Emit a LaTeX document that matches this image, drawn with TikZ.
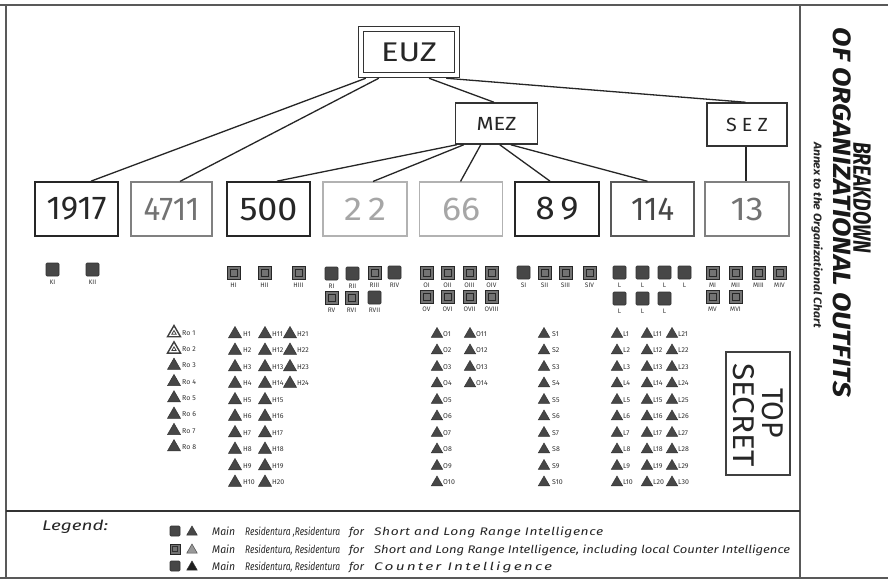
\documentclass[tikz,border=0pt]{standalone}
\usepackage{fontspec}
\setmainfont{Fira Sans}
\usetikzlibrary{shapes.geometric,calc}
\newcommand{\fitw}[2]{\resizebox{#1}{\height}{#2}}
\newcommand{\sqr}[5]{%
  \node[#4] (#1) at ({#2+6.5},{#3+6.5}) {};
  \node[sqlab] (#1-l) at ({#2+6.5},{#3+19.5}) {#5};
}
\tikzset{
  frameline/.style={draw=black!65,line width=1.6pt},
  conn/.style={draw=black!85,line width=1.3pt},
  numbox/.style={rectangle,inner sep=0pt,minimum width=83pt,minimum height=54pt,fill=white,font=\fontsize{33}{33}\selectfont},
  bxdark/.style={draw=black!85,line width=1.7pt,text=black!85},
  bxmid/.style={draw=black!65,line width=1.4pt,text=black!72},
  bxgray/.style={draw=black!50,line width=1.2pt,text=black!55},
  bxlight/.style={draw=black!30,line width=1.1pt,text=black!35},
  topbox/.style={rectangle,inner sep=0pt,draw=black!80,line width=1.5pt,fill=white,text=black!85},
  sqa/.style={rectangle,inner sep=0pt,minimum size=13pt,fill=black!72,draw=black!80,line width=0.6pt,rounded corners=1pt},
  sqb/.style={rectangle,inner sep=0pt,minimum size=13pt,fill=black!55,draw=black!85,line width=1pt,
     path picture={\draw[black!85,line width=0.7pt] ([shift={(3pt,3pt)}]path picture bounding box.south west) rectangle ([shift={(-3pt,-3pt)}]path picture bounding box.north east);}},
  sqlab/.style={inner sep=0pt,font=\fontsize{6.5}{6.5}\selectfont,text=black!80},
  tri/.style={regular polygon,regular polygon sides=3,minimum size=15pt,inner sep=0pt,fill=black!72,draw=black!80,line width=0.5pt},
  trism/.style={tri,minimum size=13pt},
  trihollow/.style={tri,fill=white,draw=black!75,line width=1.4pt},
  trilab/.style={anchor=west,inner sep=0pt,font=\fontsize{7}{7}\selectfont,text=black!80},
  legtxt/.style={anchor=base west,inner sep=0pt,font=\fontsize{11}{11}\selectfont\itshape,text=black!85},
  rottxt/.style={rotate=-90,inner sep=0pt},
}
\begin{document}
\begin{tikzpicture}[x=1pt,y=-1pt]
\useasboundingbox (0,0) rectangle (888,581);
\fill[white] (0,0) rectangle (888,581);
% frame
\draw[frameline] (0,5) -- (888,5);
\draw[frameline] (0,578) -- (888,578);
\draw[frameline] (6,5) -- (6,578);
\draw[frameline] (800,5) -- (800,578);
\draw[draw=black!80,line width=2pt] (6,511) -- (800,511);

% top level
\node[topbox,minimum width=101pt,minimum height=51pt] (euz) at (409,52) {};
\node[rectangle,draw=black!80,line width=1.5pt,minimum width=91pt,minimum height=41pt,inner sep=0pt,font=\fontsize{27}{27}\selectfont,text=black!85] (euzin) at (euz.center) {\fitw{56pt}{EUZ}};
\node[topbox,minimum width=82pt,minimum height=41pt,font=\fontsize{19}{19}\selectfont] (mez) at (496.5,123.5) {\fitw{40pt}{MEZ}};
\node[topbox,minimum width=80pt,minimum height=43pt,font=\fontsize{19}{19}\selectfont] (sez) at (747,124.5) {\fitw{42pt}{S E Z}};

% second level
\node[numbox,bxdark] (n1917) at (76.5,209) {\fitw{60pt}{1917}};
\node[numbox,bxgray,minimum width=81pt] (n4711) at (171.5,209) {\fitw{56pt}{4711}};
\node[numbox,bxdark] (n500) at (268.5,209) {\fitw{58pt}{500}};
\node[numbox,bxlight,minimum width=84pt] (n22) at (365,209) {\fitw{42pt}{2\,2}};
\node[numbox,bxlight] (n66) at (461,209) {\fitw{38pt}{66}};
\node[numbox,bxdark,minimum width=84pt] (n89) at (557,209) {\fitw{43pt}{8\,9}};
\node[numbox,bxmid] (n114) at (652.5,209) {\fitw{43pt}{114}};
\node[numbox,bxgray,minimum width=84pt] (n13) at (747,209) {\fitw{33pt}{13}};

% connectors
\draw[conn] ($(euz.south west)+(8,0)$) -- ($(n1917.north)+(14.5,0)$);
\draw[conn] ($(euz.south west)+(21,0)$) -- ($(n4711.north)+(8.5,0)$);
\draw[conn] ($(euz.south)+(20,0)$) -- ($(mez.north)+(-2.5,0)$);
\draw[conn] ($(euz.south east)+(-14,0)$) -- ($(sez.north)+(-1.5,0)$);
\draw[conn] ($(mez.south west)+(2,0)$) -- ($(n500.north)+(8.5,0)$);
\draw[conn] ($(mez.south west)+(9,0)$) -- ($(n22.north)+(8,0)$);
\draw[conn] ($(mez.south west)+(26,0)$) -- ($(n66.north)+(-0.5,0)$);
\draw[conn] ($(mez.south west)+(45,0)$) -- ($(n89.north)+(-7,0)$);
\draw[conn] ($(mez.south west)+(56,0)$) -- ($(n114.north)+(-5,0)$);
\draw[conn] ($(sez.south)+(-1,0)$) -- ($(n13.north)+(-1,0)$);

% squares
\sqr{kI}{46}{263}{sqa}{KI}
\sqr{kII}{86}{263}{sqa}{KII}
\sqr{hI}{227}{266}{sqb}{HI}
\sqr{hII}{258}{266}{sqb}{HII}
\sqr{hIII}{292}{266}{sqb}{HIII}
\sqr{rI}{325}{267}{sqa}{RI}
\sqr{rII}{346}{267}{sqa}{RII}
\sqr{rIII}{368}{266}{sqb}{RIII}
\sqr{rIV}{388}{266}{sqa}{RIV}
\sqr{rV}{325}{291}{sqb}{RV}
\sqr{rVI}{345}{291}{sqb}{RVI}
\sqr{rVII}{368}{291}{sqa}{RVII}
\sqr{oI}{420}{266}{sqb}{OI}
\sqr{oII}{441}{266}{sqb}{OII}
\sqr{oIII}{463}{266}{sqb}{OIII}
\sqr{oIV}{485}{266}{sqb}{OIV}
\sqr{oV}{420}{290}{sqb}{OV}
\sqr{oVI}{441}{290}{sqb}{OVI}
\sqr{oVII}{463}{290}{sqb}{OVII}
\sqr{oVIII}{485}{290}{sqb}{OVIII}
\sqr{sI}{517}{266}{sqa}{SI}
\sqr{sII}{538}{266}{sqb}{SII}
\sqr{sIII}{559}{266}{sqb}{SIII}
\sqr{sIV}{583}{266}{sqb}{SIV}
\sqr{lq1}{613}{266}{sqa}{L}
\sqr{lq2}{636}{266}{sqa}{L}
\sqr{lq3}{658}{266}{sqa}{L}
\sqr{lq4}{678}{266}{sqa}{L}
\sqr{lq5}{613}{292}{sqa}{L}
\sqr{lq6}{636}{292}{sqa}{L}
\sqr{lq7}{658}{292}{sqa}{L}
\sqr{mI}{706}{266}{sqb}{MI}
\sqr{mII}{729}{266}{sqb}{MII}
\sqr{mIII}{752}{266}{sqb}{MIII}
\sqr{mIV}{773}{266}{sqb}{MIV}
\sqr{mV}{706}{290}{sqb}{MV}
\sqr{mVI}{729}{290}{sqb}{MVI}

% triangles: Ro
\foreach \i in {1,2}{
  \pgfmathsetmacro{\yy}{333+16.3*(\i-1)}
  \node[trihollow] (ro\i) at (174,\yy) {};
  \node[regular polygon,regular polygon sides=3,minimum size=5pt,inner sep=0pt,draw=black!75,line width=0.8pt] (ro\i-in) at (174,\yy) {};
  \node[trilab] (ro\i-l) at (182,\yy) {Ro \i};
}
\foreach \i in {3,...,8}{
  \pgfmathsetmacro{\yy}{333+16.3*(\i-1)}
  \node[tri] (ro\i) at (174,\yy) {};
  \node[trilab] (ro\i-l) at (182,\yy) {Ro \i};
}
% H
\foreach \i in {1,...,10}{
  \pgfmathsetmacro{\yy}{334+16.5*(\i-1)}
  \node[tri] (th\i) at (235,\yy) {};
  \node[trilab] (th\i-l) at (243,\yy) {H\i};
}
\foreach \i in {11,...,20}{
  \pgfmathsetmacro{\yy}{334+16.5*(\i-11)}
  \node[tri] (th\i) at (265,\yy) {};
  \node[trilab] (th\i-l) at (272,\yy) {H\i};
}
\foreach \i in {21,...,24}{
  \pgfmathsetmacro{\yy}{334+16.5*(\i-21)}
  \node[tri] (th\i) at (290,\yy) {};
  \node[trilab] (th\i-l) at (297,\yy) {H\i};
}
% O
\foreach \i in {1,...,10}{
  \pgfmathsetmacro{\yy}{334+16.5*(\i-1)}
  \node[trism] (to\i) at (437,\yy) {};
  \node[trilab] (to\i-l) at (443,\yy) {O\i};
}
\foreach \i in {11,...,14}{
  \pgfmathsetmacro{\yy}{334+16.5*(\i-11)}
  \node[trism] (to\i) at (470,\yy) {};
  \node[trilab] (to\i-l) at (476,\yy) {O\i};
}
% S
\foreach \i in {1,...,10}{
  \pgfmathsetmacro{\yy}{334+16.5*(\i-1)}
  \node[trism] (ts\i) at (544,\yy) {};
  \node[trilab] (ts\i-l) at (552,\yy) {S\i};
}
% L
\foreach \i in {1,...,10}{
  \pgfmathsetmacro{\yy}{334+16.5*(\i-1)}
  \node[trism] (tl\i) at (617,\yy) {};
  \node[trilab] (tl\i-l) at (623,\yy) {L\i};
}
\foreach \i in {11,...,20}{
  \pgfmathsetmacro{\yy}{334+16.5*(\i-11)}
  \node[trism] (tl\i) at (647,\yy) {};
  \node[trilab] (tl\i-l) at (653,\yy) {L\i};
}
\foreach \i in {21,...,30}{
  \pgfmathsetmacro{\yy}{334+16.5*(\i-21)}
  \node[trism] (tl\i) at (672,\yy) {};
  \node[trilab] (tl\i-l) at (678,\yy) {L\i};
}

% TOP SECRET
\node[rectangle,draw=black!75,line width=1.5pt,minimum width=64pt,minimum height=123pt,inner sep=0pt] (tsbox) at (758,413.5) {};
\node[rottxt,font=\fontsize{30}{30}\selectfont,text=black!85] (top) at (772.5,413) {\fitw{50pt}{TOP}};
\node[rottxt,font=\fontsize{30}{30}\selectfont,text=black!85] (secret) at (744,415) {\fitw{104pt}{SECRET}};

% title
\node[rottxt,font=\fontsize{25}{25}\selectfont\bfseries\itshape,text=black!90] (brk) at (862,197.5) {\fitw{111pt}{BREAKDOWN}};
\node[rottxt,font=\fontsize{25}{25}\selectfont\bfseries\itshape,text=black!90] (oforg) at (842,212.5) {\fitw{369pt}{OF ORGANIZATIONAL OUTFITS}};
\node[rottxt,font=\fontsize{11}{11}\selectfont\bfseries\itshape,text=black!85] (annex) at (817,235) {\fitw{186pt}{Annex to the Organizational Chart}};

% legend
\node[anchor=base west,inner sep=0pt,font=\fontsize{14}{14}\selectfont\itshape,text=black!85] (legend) at (42,530) {\fitw{66pt}{Legend:}};
\node[sqa,minimum size=10pt] (lsq1) at (175,531) {};
\node[tri,minimum size=12pt] (ltr1) at (192,532) {};
\node[sqb,minimum size=10pt,path picture={\draw[black!80,line width=0.6pt] ([shift={(2.5pt,2.5pt)}]path picture bounding box.south west) rectangle ([shift={(-2.5pt,-2.5pt)}]path picture bounding box.north east);}] (lsq2) at (175,549) {};
\node[tri,minimum size=12pt,fill=black!40,draw=black!70] (ltr2) at (192,550) {};
\node[sqa,minimum size=10pt] (lsq3) at (175,566) {};
\node[tri,minimum size=12pt,fill=black!88] (ltr3) at (192,567) {};

\node[legtxt] (l1a) at (212,535) {\fitw{23pt}{Main}};
\node[legtxt] (l1b) at (245,535) {\fitw{95pt}{Residentura ,Residentura}};
\node[legtxt] (l1c) at (349,535) {\fitw{15pt}{for}};
\node[legtxt] (l1d) at (374,535) {\fitw{229pt}{\addfontfeature{LetterSpace=4}Short and Long Range Intelligence}};
\node[legtxt] (l2a) at (212,553) {\fitw{23pt}{Main}};
\node[legtxt] (l2b) at (245,553) {\fitw{95pt}{Residentura, Residentura}};
\node[legtxt] (l2c) at (349,553) {\fitw{15pt}{for}};
\node[legtxt] (l2d) at (374,553) {\fitw{416pt}{Short and Long Range Intelligence, including local Counter Intelligence}};
\node[legtxt] (l3a) at (212,570) {\fitw{23pt}{Main}};
\node[legtxt] (l3b) at (245,570) {\fitw{95pt}{Residentura, Residentura}};
\node[legtxt] (l3c) at (349,570) {\fitw{15pt}{for}};
\node[legtxt] (l3d) at (374,570) {\fitw{178pt}{\addfontfeature{LetterSpace=14}Counter Intelligence}};
\end{tikzpicture}
\end{document}
